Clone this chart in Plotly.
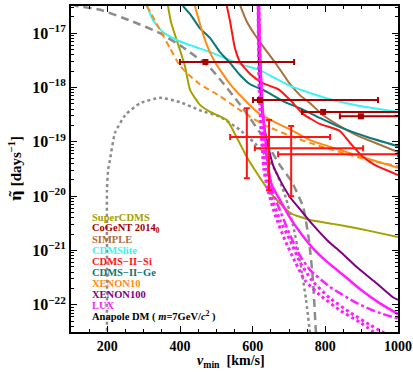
import numpy as np
import plotly.graph_objects as go

# ---- data (v_min in km/s, log10 of eta-tilde in days^-1) ----
shm_dashed_v = [100, 116, 180, 271, 345, 408, 483, 573, 634, 675, 708, 739, 755, 766, 774, 778]
shm_dashed_logeta = [-16.46, -16.50, -16.57, -16.79, -17.00, -17.26, -17.64, -18.38, -18.97, -19.43,
                     -19.74, -20.20, -20.81, -21.55, -22.50, -22.8]

shm_dotted_v = [199, 199, 199, 202, 207, 221, 249, 290, 345, 400, 455, 510, 565, 620, 662, 689, 711, 730, 747, 760]
shm_dotted_logeta = [-22.7, -20.99, -19.89, -19.52, -19.34, -18.84, -18.51, -18.29, -18.19, -18.27, -18.42,
                     -18.54, -18.78, -19.12, -19.52, -19.98, -20.53, -21.18, -21.91, -22.65]

supercdms_v = [367, 375, 389, 400, 414, 428, 455, 483, 529, 557, 584, 615, 648, 675, 703, 758, 821, 887, 950, 1000]
supercdms_logeta = [-16.50, -16.79, -17.09, -17.31, -17.62, -18.05, -18.32, -18.45, -18.60, -18.93, -19.28,
                    -19.61, -19.93, -20.13, -20.31, -20.44, -20.51, -20.59, -20.68, -20.75]

simple_v = [565, 584, 606, 626, 667, 703, 730, 758, 794, 840, 887, 945, 1000]
simple_logeta = [-16.48, -16.79, -17.03, -17.22, -17.59, -17.94, -18.14, -18.29, -18.51, -18.71, -18.88, -19.04, -19.19]

cdmslite_v = [309, 326, 353, 392, 436, 483, 524, 565, 620, 662, 703, 758, 821, 895, 1000]
cdmslite_logeta = [-16.50, -16.76, -16.98, -17.13, -17.24, -17.35, -17.46, -17.57, -17.68, -17.83, -17.97,
                   -18.10, -18.23, -18.34, -18.45]

cdms_si_v = [529, 538, 551, 565, 593, 628, 670, 703, 739, 785, 840, 868, 901, 937, 1000]
cdms_si_logeta = [-16.50, -16.79, -17.27, -17.53, -17.75, -17.92, -18.03, -18.23, -18.49, -18.67, -18.80,
                  -19.02, -19.26, -19.43, -19.61]

cdms_ge_v = [408, 428, 455, 483, 510, 538, 565, 593, 639, 689, 730, 785, 840, 915, 1000]
cdms_ge_logeta = [-16.50, -16.65, -16.91, -17.09, -17.35, -17.55, -17.77, -17.94, -18.08, -18.27, -18.38,
                  -18.56, -18.73, -18.91, -19.08]

xenon10_v = [441, 455, 474, 496, 538, 584, 620, 662, 703, 758, 840, 931, 1000]
xenon10_logeta = [-16.50, -16.83, -17.22, -17.53, -17.94, -18.27, -18.49, -18.64, -18.77, -18.97, -19.15, -19.34, -19.48]

xenon10_alt_v = [309, 345, 372, 400, 428, 455, 510, 557, 593, 639, 703, 758, 840, 923, 1000]
xenon10_alt_logeta = [-16.50, -16.94, -17.27, -17.60, -17.79, -17.94, -18.16, -18.38, -18.54, -18.71, -18.89,
                      -19.02, -19.19, -19.34, -19.45]

xenon100_v = [615, 617, 623, 631, 642, 656, 675, 703, 730, 766, 805, 849, 887, 937, 986, 1000]
xenon100_logeta = [-16.50, -17.49, -18.23, -18.69, -19.06, -19.43, -19.70, -20.02, -20.24, -20.53, -20.81,
                   -21.07, -21.31, -21.58, -21.86, -21.91]

lux_v = [617, 620, 626, 634, 642, 653, 675, 703, 730, 766, 805, 849, 895, 945, 1000]
lux_logeta = [-16.50, -17.31, -18.23, -18.88, -19.43, -19.80, -20.07, -20.40, -20.66, -20.96, -21.21, -21.45,
              -21.71, -21.95, -22.17]

lux_dashdot_v = [617, 623, 631, 642, 653, 675, 703, 730, 758, 813, 887, 945, 1000]
lux_dashdot_logeta = [-16.50, -17.86, -18.78, -19.52, -19.89, -20.26, -20.72, -21.09, -21.36, -21.67, -21.97,
                      -22.14, -22.25]

lux_dot1_v = [615, 617, 623, 631, 642, 662, 689, 717, 744, 785, 840, 895, 945]
lux_dot1_logeta = [-16.50, -17.86, -18.78, -19.52, -19.89, -20.35, -20.81, -21.21, -21.55, -21.82, -22.10,
                   -22.32, -22.56]

lux_dot2_v = [617, 620, 626, 637, 650, 675, 703, 730, 763, 813, 868, 923, 978]
lux_dot2_logeta = [-16.50, -17.86, -18.78, -19.52, -19.98, -20.44, -20.81, -21.21, -21.55, -21.88, -22.14,
                   -22.37, -22.58]

# CoGeNT bins: v_min range and centre, eta level
cogent_v = [470, 620, 794, 898]
cogent_v_lo = [400, 601, 736, 840]
cogent_v_hi = [714, 945, 1030, 1040]
cogent_logeta = [-17.53, -18.23, -18.45, -18.53]

# CDMS-II-Si crosses
si_pts_v = [584, 645, 706]
si_pts_v_lo = [538, 606, 670]
si_pts_v_hi = [813, 904, 1000]
si_pts_logeta = [-18.91, -19.12, -19.23]
si_pts_logeta_hi = [-18.38, -18.60, -18.71]
si_pts_logeta_lo = [-19.67, -19.89, -20.00]

legend_labels = ["SuperCDMS", "CoGeNT 2014<sub>0</sub>", "SIMPLE", "CDMSlite", "CDMS−II−Si",
                 "CDMS−II−Ge", "XENON10", "XENON100", "LUX",
                 "Anapole DM ( <i>m</i>=7GeV/<i>c</i><sup>2</sup> )"]

COLORS = {
    "supercdms": "#A6A000",
    "cogent": "#A80000",
    "simple": "#A8703C",
    "cdmslite": "#3CF2F2",
    "cdms_si": "#FF1414",
    "cdms_ge": "#0A7878",
    "xenon10": "#FF8A14",
    "xenon100": "#800080",
    "lux": "#FF1EFF",
    "gray": "#8C8C8C",
    "black": "#000000",
}
legend_colors = [COLORS[k] for k in ["supercdms", "cogent", "simple", "cdmslite", "cdms_si",
                                     "cdms_ge", "xenon10", "xenon100", "lux", "black"]]

FONT = "Liberation Serif"

fig = go.Figure()


def add_curve(v, logeta, color, width=2.0, dash="solid"):
    fig.add_trace(go.Scatter(
        x=v, y=10 ** np.array(logeta), mode="lines",
        line=dict(color=color, width=width, dash=dash, shape="spline", smoothing=0.5),
        showlegend=False, hoverinfo="skip",
    ))


add_curve(shm_dotted_v, shm_dotted_logeta, COLORS["gray"], 2.5, "3px,3px")
add_curve(shm_dashed_v, shm_dashed_logeta, COLORS["gray"], 2.5, "8px,5px")
add_curve(supercdms_v, supercdms_logeta, COLORS["supercdms"])
add_curve(simple_v, simple_logeta, COLORS["simple"])
add_curve(cdmslite_v, cdmslite_logeta, COLORS["cdmslite"])
add_curve(cdms_ge_v, cdms_ge_logeta, COLORS["cdms_ge"])
add_curve(xenon10_alt_v, xenon10_alt_logeta, COLORS["xenon10"], 2.0, "6px,4px")
add_curve(xenon10_v, xenon10_logeta, COLORS["xenon10"])
add_curve(cdms_si_v, cdms_si_logeta, COLORS["cdms_si"])
add_curve(xenon100_v, xenon100_logeta, COLORS["xenon100"])
add_curve(lux_dot1_v, lux_dot1_logeta, COLORS["lux"], 3.0, "dot")
add_curve(lux_dot2_v, lux_dot2_logeta, COLORS["lux"], 3.0, "dot")
add_curve(lux_dashdot_v, lux_dashdot_logeta, COLORS["lux"], 2.5, "dashdot")
add_curve(lux_v, lux_logeta, COLORS["lux"], 2.5)

# CoGeNT horizontal bins
cg_eta = 10 ** np.array(cogent_logeta)
fig.add_trace(go.Scatter(
    x=cogent_v, y=cg_eta, mode="markers",
    marker=dict(symbol="square", size=6, color=COLORS["cogent"]),
    error_x=dict(type="data", symmetric=False,
                 array=np.array(cogent_v_hi) - np.array(cogent_v),
                 arrayminus=np.array(cogent_v) - np.array(cogent_v_lo),
                 color=COLORS["cogent"], thickness=2, width=3),
    showlegend=False, hoverinfo="skip",
))

# CDMS-II-Si crosses
si_eta = 10 ** np.array(si_pts_logeta)
fig.add_trace(go.Scatter(
    x=si_pts_v, y=si_eta, mode="markers",
    marker=dict(size=1, color=COLORS["cdms_si"]),
    error_x=dict(type="data", symmetric=False,
                 array=np.array(si_pts_v_hi) - np.array(si_pts_v),
                 arrayminus=np.array(si_pts_v) - np.array(si_pts_v_lo),
                 color=COLORS["cdms_si"], thickness=2, width=3),
    error_y=dict(type="data", symmetric=False,
                 array=10 ** np.array(si_pts_logeta_hi) - si_eta,
                 arrayminus=si_eta - 10 ** np.array(si_pts_logeta_lo),
                 color=COLORS["cdms_si"], thickness=2, width=3),
    showlegend=False, hoverinfo="skip",
))

# legend as coloured text lines
legend_top_px = 217
for i, (lab, col) in enumerate(zip(legend_labels, legend_colors)):
    ypx = legend_top_px + i * 11
    fig.add_annotation(
        xref="paper", yref="paper", x=(90 - 71) / 327, y=(332 - ypx) / 326,
        xanchor="left", yanchor="middle", showarrow=False, text=lab,
        font=dict(family=FONT, size=10.5, color=col, weight="bold"),
    )

# axis titles placed by hand so the margins stay fixed
fig.add_annotation(
    xref="paper", yref="paper", x=0.49, y=(332 - 361) / 326, xanchor="center", yanchor="middle",
    showarrow=False, text="<i>v</i><sub>min</sub>&nbsp;&nbsp;[km/s]",
    font=dict(family=FONT, size=14, color="black", weight="bold"),
)
fig.add_annotation(
    xref="paper", yref="paper", x=(15 - 71) / 327, y=0.5, xanchor="center", yanchor="middle",
    showarrow=False, textangle=-90,
    text="<span style='font-family:DejaVu Serif'>η̃</span>&nbsp;[days<sup>−1</sup>]",
    font=dict(family=FONT, size=15, color="black", weight="bold"),
)

y_major = [1e-17, 1e-18, 1e-19, 1e-20, 1e-21, 1e-22]
y_text = ["10<sup>−%d</sup>" % n for n in range(17, 23)]
y_minor = [m * 10.0 ** e for e in range(-23, -16) for m in range(2, 10)]

fig.update_layout(
    width=413, height=372,
    margin=dict(l=71, r=15, t=6, b=40, autoexpand=False),
    paper_bgcolor="white", plot_bgcolor="white",
    font=dict(family=FONT, color="black"),
)
fig.update_xaxes(
    range=[100, 1000], showgrid=False, zeroline=False, automargin=False,
    showline=True, linecolor="black", linewidth=2, mirror="allticks",
    ticks="inside", ticklen=6, tickwidth=1, tickcolor="black",
    tickvals=[200, 400, 600, 800, 1000],
    tickfont=dict(family=FONT, size=14, color="black", weight="bold"),
    minor=dict(ticks="inside", ticklen=3, tickcolor="black", dtick=50, tick0=0, showgrid=False),
)
fig.update_yaxes(
    type="log", range=[-22.5, -16.5], showgrid=False, zeroline=False, automargin=False,
    showline=True, linecolor="black", linewidth=2, mirror="allticks",
    ticks="inside", ticklen=6, tickwidth=1, tickcolor="black",
    tickvals=y_major, ticktext=y_text,
    tickfont=dict(family=FONT, size=16, color="black", weight="bold"),
    minor=dict(ticks="inside", ticklen=3, tickcolor="black", tickmode="array", tickvals=y_minor, showgrid=False),
)

# the page's default body margin would shift the chart; drop it
fig.write_html("out.html", config={"displayModeBar": False},
               post_script="document.body.style.margin='0px';")
